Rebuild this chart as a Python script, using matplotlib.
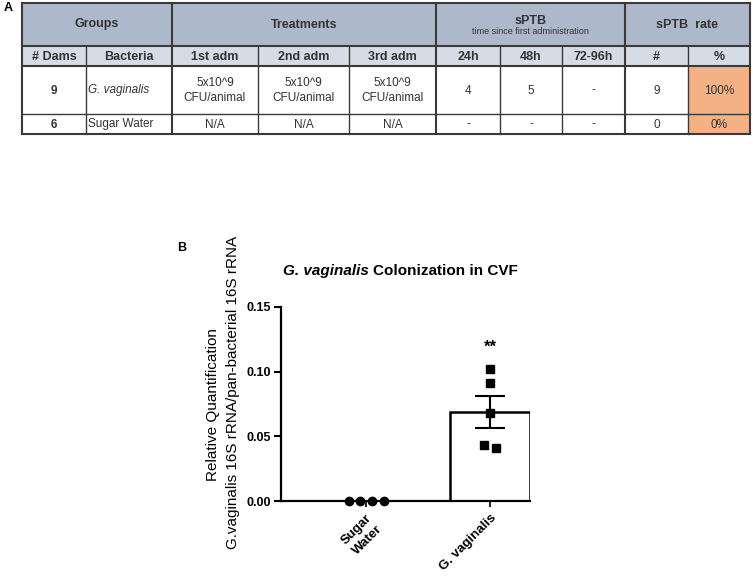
import numpy as np
import matplotlib
matplotlib.use("Agg")
import matplotlib.pyplot as plt
from matplotlib.patches import Rectangle

plt.rcParams['font.family'] = ['Liberation Sans', 'DejaVu Sans']

# ---- panel A: table contents ----
group_headers = ["Groups", "Treatments", "sPTB", "sPTB  rate"]
group_spans = [(0, 2), (2, 5), (5, 8), (8, 10)]
sptb_note = "time since first administration"
sub_headers = ["# Dams", "Bacteria", "1st adm", "2nd adm", "3rd adm",
               "24h", "48h", "72-96h", "#", "%"]
row_gv = ["9", "G. vaginalis", "5x10^9\nCFU/animal", "5x10^9\nCFU/animal",
          "5x10^9\nCFU/animal", "4", "5", "-", "9", "100%"]
row_sw = ["6", "Sugar Water", "N/A", "N/A", "N/A", "-", "-", "-", "0", "0%"]
table_rows = [row_gv, row_sw]

# ---- panel B: qPCR values ----
categories = ["Sugar\nWater", "G. vaginalis"]
sugar_vals = [0.0, 0.0, 0.0, 0.0]
gv_vals = [0.102, 0.091, 0.068, 0.043, 0.041]

# horizontal scatter of the points inside each group
sugar_jit = [-0.137, -0.048, 0.048, 0.145]
gv_jit = [0.0, 0.0, 0.0, -0.048, 0.048]

W, H = 753, 576
fig = plt.figure(figsize=(W / 100, H / 100), dpi=100)

# table drawn in pixel coordinates on a full-figure axes
tax = fig.add_axes([0, 0, 1, 1])
tax.set_xlim(0, W)
tax.set_ylim(H, 0)
tax.axis("off")

col_x = [22, 86, 172, 258, 349, 436, 500, 562, 625, 688, 750]
row_y = [3, 46, 66, 114, 134]
line_c = "#3a3a3a"
txt_c = "#333333"

# backgrounds
tax.add_patch(Rectangle((col_x[0], row_y[0]), col_x[-1] - col_x[0], row_y[1] - row_y[0],
                        fc="#adb9ca", ec="none"))
tax.add_patch(Rectangle((col_x[0], row_y[1]), col_x[-1] - col_x[0], row_y[2] - row_y[1],
                        fc="#d6dce5", ec="none"))
for r in range(2):
    tax.add_patch(Rectangle((col_x[9], row_y[2 + r]), col_x[10] - col_x[9],
                            row_y[3 + r] - row_y[2 + r], fc="#f4b183", ec="none"))

# grid lines
for y in row_y:
    lw = 1.0 if y == row_y[3] else 1.5
    tax.plot([col_x[0], col_x[-1]], [y, y], color=line_c, lw=lw)
for i, x in enumerate(col_x):
    if i in (0, 2, 5, 8, 10):
        tax.plot([x, x], [row_y[0], row_y[-1]], color=line_c, lw=1.5)
    else:
        tax.plot([x, x], [row_y[1], row_y[-1]], color=line_c, lw=1.0)

# group header row
for (a, b), label in zip(group_spans, group_headers):
    cx = (col_x[a] + col_x[b]) / 2
    cy = (row_y[0] + row_y[1]) / 2
    if label == "sPTB":
        tax.text(cx, cy - 4, label, ha="center", va="center", fontsize=9,
                 fontweight="bold", color=txt_c)
        tax.text(cx, cy + 7.5, sptb_note, ha="center", va="center", fontsize=6.5,
                 color=txt_c)
    else:
        tax.text(cx, cy, label, ha="center", va="center", fontsize=9,
                 fontweight="bold", color=txt_c)

# sub header row
for i, label in enumerate(sub_headers):
    cx = (col_x[i] + col_x[i + 1]) / 2
    tax.text(cx, (row_y[1] + row_y[2]) / 2 + 0.5, label, ha="center", va="center",
             fontsize=9, fontweight="bold", color=txt_c)

# body rows
for r, row in enumerate(table_rows):
    cy = (row_y[2 + r] + row_y[3 + r]) / 2 + 0.5
    for i, val in enumerate(row):
        kw = dict(va="center", fontsize=8.5, color=txt_c, linespacing=1.25)
        if i == 0:
            tax.text((col_x[0] + col_x[1]) / 2, cy, val, ha="center",
                     fontweight="bold", **kw)
        elif i == 1:
            tax.text(col_x[1] + 2, cy, val, ha="left",
                     style="italic" if r == 0 else "normal", **kw)
        else:
            tax.text((col_x[i] + col_x[i + 1]) / 2, cy, val, ha="center", **kw)

tax.text(8, 8, "A", ha="center", va="center", fontsize=9, fontweight="bold")
tax.text(182, 248, "B", ha="center", va="center", fontsize=9, fontweight="bold")

# ---- bar chart ----
ax = fig.add_axes([281 / W, 75 / H, 249 / W, 194 / H])
groups = [sugar_vals, gv_vals]
jits = [sugar_jit, gv_jit]
means = [np.mean(g) for g in groups]
sems = [np.std(g, ddof=1) / np.sqrt(len(g)) for g in groups]
xpos = np.arange(len(categories))

ax.bar(xpos[1], means[1], width=0.645, color="white", edgecolor="black",
       linewidth=1.8, zorder=2)
ax.errorbar(xpos[1], means[1], yerr=sems[1], fmt="none", ecolor="black",
            elinewidth=1.5, capsize=11, capthick=1.5, zorder=3)

ax.plot(xpos[0] + np.array(jits[0]), groups[0], "o", color="black", ms=6,
        clip_on=False, zorder=4)
ax.plot(xpos[1] + np.array(jits[1]), groups[1], "s", color="black", ms=5.5,
        clip_on=False, zorder=4)

ax.annotate("**", xy=(xpos[1], max(gv_vals)), xytext=(0, 10),
            textcoords="offset points", ha="center", va="bottom",
            fontsize=12, fontweight="bold")

ax.set_xlim(-0.685, 1.32)
ax.set_ylim(0, 0.15)
ax.set_yticks([0.0, 0.05, 0.10, 0.15])
ax.set_yticklabels([f"{v:.2f}" for v in [0.0, 0.05, 0.10, 0.15]],
                   fontsize=9, fontweight="bold")
ax.set_xticks(xpos)
ax.set_xticklabels(categories, rotation=45, ha="right", va="top",
                   rotation_mode="anchor", ma="center", linespacing=1.3,
                   fontsize=9.5, fontweight="bold")
ax.tick_params(axis="y", length=5, width=1.5, pad=2)
ax.tick_params(axis="x", length=4, width=1.2, pad=4)
for s in ["top", "right"]:
    ax.spines[s].set_visible(False)
for s in ["left", "bottom"]:
    ax.spines[s].set_linewidth(1.6)
ax.patch.set_alpha(0)

# y label as two separately centred lines
ax.text(-0.273, 0.497, "Relative Quantification", transform=ax.transAxes,
        rotation=90, ha="center", va="center", fontsize=11)
ax.text(-0.193, 0.559, "G.vaginalis 16S rRNA/pan-bacterial 16S rRNA",
        transform=ax.transAxes, rotation=90, ha="center", va="center",
        fontsize=11)

t1 = ax.text(0.37, 1.165, "G. vaginalis ", transform=ax.transAxes,
             ha="right", va="baseline", fontsize=11, fontweight="bold",
             style="italic")
ax.annotate("Colonization in CVF", xy=(1, 0), xycoords=t1, ha="left",
            va="bottom", fontsize=11, fontweight="bold")

fig.savefig("out.png", dpi=100)
